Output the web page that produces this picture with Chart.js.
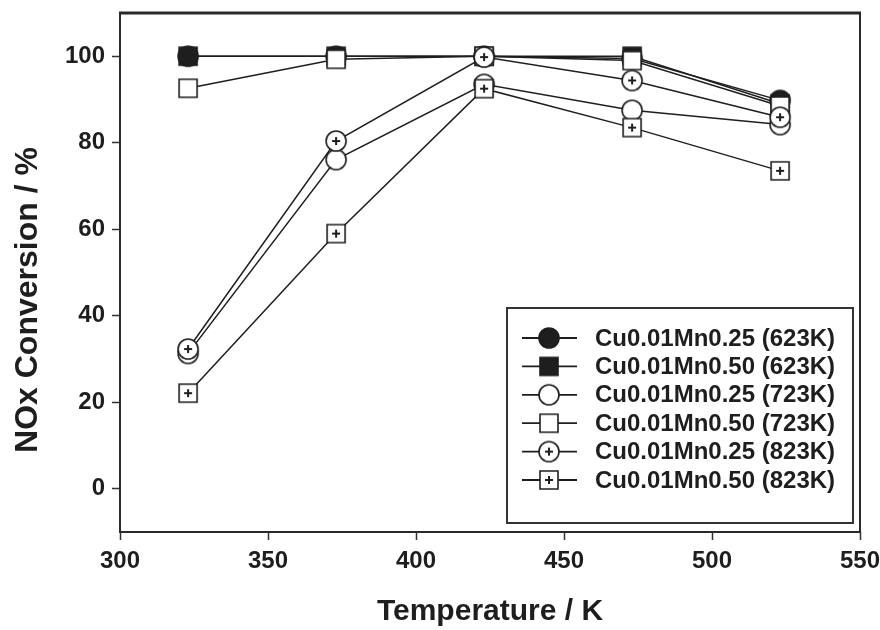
<!DOCTYPE html>
<html><head><meta charset="utf-8">
<script src="https://cdn.jsdelivr.net/npm/chart.js@4.4.1/dist/chart.umd.min.js"></script>
<style>html,body{margin:0;padding:0;background:#fff}#wrap{width:880px;height:630px}</style>
</head><body><div id="wrap"><canvas id="c" width="880" height="630"></canvas></div>
<script>
// ---- data ----
const temperatures = [323, 373, 423, 473, 523];
const seriesNames = [
  'Cu0.01Mn0.25 (623K)', 'Cu0.01Mn0.50 (623K)',
  'Cu0.01Mn0.25 (723K)', 'Cu0.01Mn0.50 (723K)',
  'Cu0.01Mn0.25 (823K)', 'Cu0.01Mn0.50 (823K)'
];
const mn025_623K = [100, 100, 100, 99.5, 89.8];
const mn050_623K = [100, 100, 100, 100, 89];
const mn025_723K = [31.3, 76.1, 93.5, 87.5, 84.2];
const mn050_723K = [92.6, 99.3, 100, 99.0, 88.5];
const mn025_823K = [32.3, 80.4, 99.8, 94.4, 85.9];
const mn050_823K = [22.1, 59.0, 92.5, 83.5, 73.5];
const yTickValues = [0, 20, 40, 60, 80, 100];
const xTickValues = [300, 350, 400, 450, 500, 550];
const xAxisTitle = 'Temperature / K';
const yAxisTitle = 'NOx Conversion / %';

const seriesValues = [mn025_623K, mn050_623K, mn025_723K, mn050_723K, mn025_823K, mn050_823K];
const markerKinds = ['filledCircle', 'filledSquare', 'openCircle', 'openSquare', 'plusCircle', 'plusSquare'];
const drawOrder = [4, 5, 3, 2, 0, 1];

const INK = '#1e1e1e';
const FONT = "'Liberation Sans', Arial, Helvetica, sans-serif";

function makeMarker(kind) {
  const c = document.createElement('canvas');
  c.width = 26; c.height = 26;
  const g = c.getContext('2d');
  g.translate(13, 13);
  g.lineWidth = 1.6;
  g.strokeStyle = INK;
  const circle = kind.indexOf('Circle') >= 0;
  const filled = kind.indexOf('filled') === 0;
  g.beginPath();
  if (circle) g.arc(0, 0, 10, 0, Math.PI * 2);
  else g.rect(-9, -9, 18, 18);
  g.fillStyle = filled ? INK : '#fff';
  g.fill();
  g.stroke();
  if (kind.indexOf('plus') === 0) {
    g.lineWidth = 2;
    g.beginPath();
    g.moveTo(-4, 0); g.lineTo(4, 0);
    g.moveTo(0, -4); g.lineTo(0, 4);
    g.stroke();
  }
  return c;
}
const markers = markerKinds.map(makeMarker);

const datasets = seriesNames.map((name, i) => ({
  label: name,
  data: temperatures.map((t, j) => ({ x: t, y: seriesValues[i][j] })),
  borderColor: INK,
  borderWidth: 1.5,
  backgroundColor: '#fff',
  pointStyle: markers[i],
  pointRadius: 10,
  pointHoverRadius: 10,
  tension: 0,
  order: drawOrder[i]
}));

const framePlugin = {
  id: 'frame',
  afterDraw(chart) {
    const { ctx, chartArea: a } = chart;
    ctx.save();
    ctx.strokeStyle = '#2a2a2a';
    ctx.lineWidth = 2;
    ctx.strokeRect(a.left, a.top, a.right - a.left, a.bottom - a.top);
    ctx.lineWidth = 3;
    ctx.beginPath();
    ctx.moveTo(a.left - 1, a.top); ctx.lineTo(a.right + 1, a.top);
    ctx.stroke();
    // y-axis title, placed as in the reference figure
    ctx.fillStyle = INK;
    ctx.font = 'bold 32px ' + FONT;
    ctx.textAlign = 'center';
    ctx.textBaseline = 'middle';
    ctx.translate(28, 300);
    ctx.rotate(-Math.PI / 2);
    ctx.fillText(yAxisTitle, 0, 0);
    ctx.restore();
  }
};

const legendPlugin = {
  id: 'boxLegend',
  afterDraw(chart) {
    const ctx = chart.ctx;
    ctx.save();
    ctx.fillStyle = '#fff';
    ctx.fillRect(507, 308, 346, 215);
    ctx.strokeStyle = '#333';
    ctx.lineWidth = 2;
    ctx.strokeRect(507, 308, 346, 215);
    ctx.font = 'bold 24px ' + FONT;
    ctx.textBaseline = 'middle';
    ctx.textAlign = 'left';
    seriesNames.forEach((name, i) => {
      const y = 338 + i * 28.4;
      ctx.strokeStyle = INK;
      ctx.lineWidth = 1.8;
      ctx.beginPath();
      ctx.moveTo(522, y); ctx.lineTo(577, y);
      ctx.stroke();
      ctx.drawImage(markers[i], 549 - 13, y - 13);
      ctx.fillStyle = INK;
      ctx.fillText(name, 595, y + 1);
    });
    ctx.restore();
  }
};

function zeroPad(s) { s.paddingTop = 0; s.paddingBottom = 0; s.paddingLeft = 0; s.paddingRight = 0; }

new Chart(document.getElementById('c'), {
  type: 'line',
  data: { datasets },
  options: {
    responsive: false,
    animation: false,
    events: [],
    layout: { padding: { top: 13, right: 20, left: 0, bottom: 0 } },
    plugins: { legend: { display: false }, tooltip: { enabled: false } },
    scales: {
      x: {
        type: 'linear',
        min: 300, max: 550,
        afterBuildTicks: s => { s.ticks = xTickValues.map(v => ({ value: v })); },
        afterFit: s => { s.height = 98; zeroPad(s); },
        grid: { drawOnChartArea: false, drawTicks: true, tickLength: 8, tickColor: '#333', tickWidth: 1.5 },
        border: { display: false },
        ticks: { color: INK, padding: 7, maxRotation: 0, autoSkip: false, font: { family: FONT, size: 24, weight: 'bold' } },
        title: { display: true, text: xAxisTitle, color: INK, padding: { top: 0, bottom: 0 }, font: { family: FONT, size: 30, weight: 'bold', lineHeight: 1.2 } }
      },
      y: {
        type: 'linear',
        min: -10, max: 110,
        afterBuildTicks: s => { s.ticks = yTickValues.map(v => ({ value: v })); },
        afterFit: s => { s.width = 120; zeroPad(s); },
        grid: { drawOnChartArea: false, drawTicks: true, tickLength: 8, tickColor: '#333', tickWidth: 1.5 },
        border: { display: false },
        ticks: { color: INK, padding: 7, autoSkip: false, font: { family: FONT, size: 24, weight: 'bold' } },
        title: { display: false, text: yAxisTitle }
      }
    }
  },
  plugins: [framePlugin, legendPlugin]
});
</script>
</body></html>
